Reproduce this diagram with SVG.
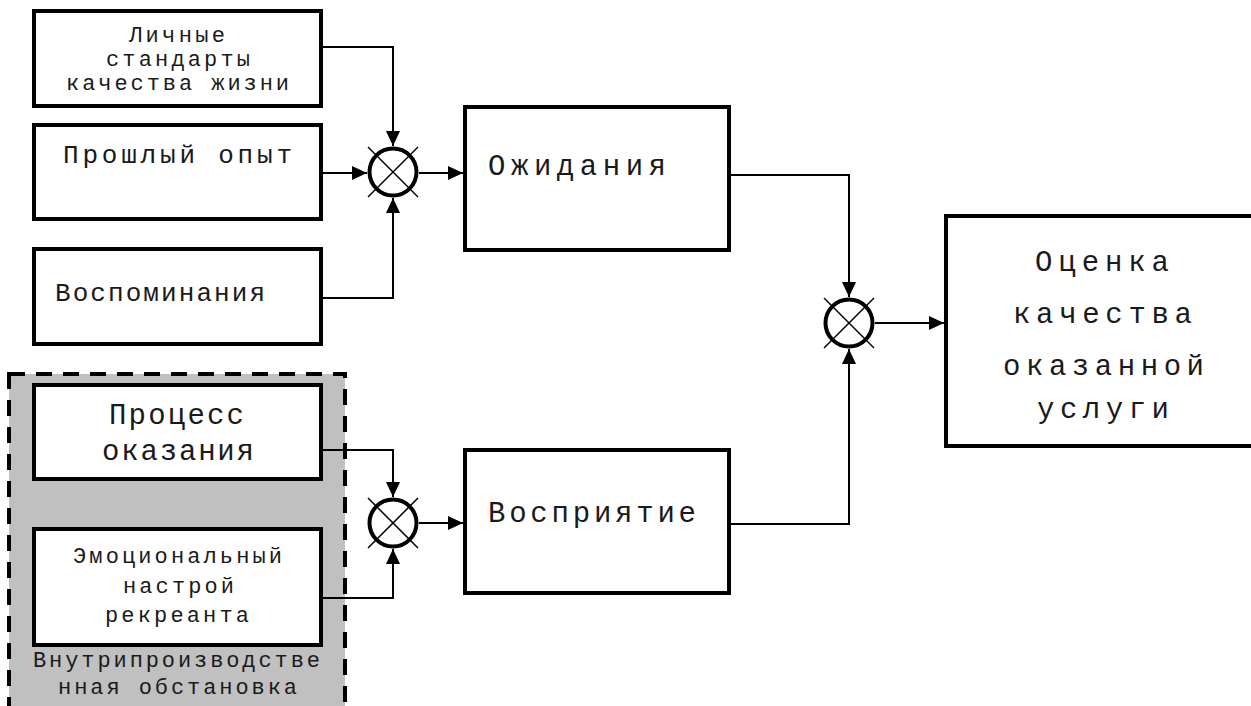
<svg xmlns="http://www.w3.org/2000/svg" width="1251" height="706" viewBox="0 0 1251 706">
<style>
.box{fill:#fff;stroke:#000;stroke-width:4}
.t{font-family:"Liberation Mono","Courier New",monospace;fill:#1a1a1a}
.s{font-size:22px}
.m{font-size:26px}
.l{font-size:29px}
.c{fill:#fff;stroke:#000;stroke-width:4}
.x{stroke:#000;stroke-width:1.5}
.con{fill:none;stroke:#000;stroke-width:2}
</style>
<defs>
<marker id="arr" markerUnits="userSpaceOnUse" markerWidth="16" markerHeight="14" refX="15" refY="7" orient="auto">
<path d="M0,0 L15,7 L0,14 z" fill="#000"/>
</marker>
</defs>
<rect x="9" y="374" width="336" height="360" fill="#c0c0c0" stroke="#000" stroke-width="4" stroke-dasharray="16 11"/>
<g id="connectors">
<path class="con" d="M323,47 H393 V146" marker-end="url(#arr)"/>
<path class="con" d="M323,173 H367" marker-end="url(#arr)"/>
<path class="con" d="M323,298 H393 V198" marker-end="url(#arr)"/>
<path class="con" d="M419,173 H463" marker-end="url(#arr)"/>
<path class="con" d="M731,175 H849 V297" marker-end="url(#arr)"/>
<path class="con" d="M731,524 H849 V349" marker-end="url(#arr)"/>
<path class="con" d="M875,323 H944" marker-end="url(#arr)"/>
<path class="con" d="M323,450 H393 V497" marker-end="url(#arr)"/>
<path class="con" d="M323,598 H393 V549" marker-end="url(#arr)"/>
<path class="con" d="M419,523 H463" marker-end="url(#arr)"/>
</g>
<g id="box-standards">
<rect class="box" x="34" y="11" width="287" height="95"/>
<text class="t s" x="129" y="42" textLength="96" lengthAdjust="spacing">Личные</text>
<text class="t s" x="106" y="66" textLength="144" lengthAdjust="spacing">стандарты</text>
<text class="t s" x="66" y="90" textLength="223" lengthAdjust="spacing">качества жизни</text>
</g>
<g id="box-experience">
<rect class="box" x="34" y="125" width="287" height="94"/>
<text class="t m" x="63" y="163" textLength="229" lengthAdjust="spacing">Прошлый опыт</text>
</g>
<g id="box-memories">
<rect class="box" x="34" y="249" width="287" height="95"/>
<text class="t m" x="55" y="301" textLength="210" lengthAdjust="spacing">Воспоминания</text>
</g>
<g id="box-process">
<rect class="box" x="34" y="385" width="287" height="94"/>
<text class="t l" x="109" y="424" textLength="135" lengthAdjust="spacing">Процесс</text>
<text class="t l" x="102" y="460" textLength="152" lengthAdjust="spacing">оказания</text>
</g>
<g id="box-mood">
<rect class="box" x="34" y="529" width="287" height="116"/>
<text class="t s" x="73" y="563" textLength="209" lengthAdjust="spacing">Эмоциональный</text>
<text class="t s" x="123" y="593" textLength="111" lengthAdjust="spacing">настрой</text>
<text class="t s" x="105" y="622" textLength="144" lengthAdjust="spacing">рекреанта</text>
</g>
<g id="env-label">
<text class="t s" x="33" y="667" textLength="287" lengthAdjust="spacing">Внутрипроизводстве</text>
<text class="t s" x="58" y="694" textLength="239" lengthAdjust="spacing">нная обстановка</text>
</g>
<g id="sum-1">
<circle class="c" cx="393" cy="172" r="23.5"/>
<line class="x" x1="368" y1="147" x2="418" y2="197"/>
<line class="x" x1="418" y1="147" x2="368" y2="197"/>
</g>
<g id="sum-2">
<circle class="c" cx="393" cy="523" r="23.5"/>
<line class="x" x1="368" y1="498" x2="418" y2="548"/>
<line class="x" x1="418" y1="498" x2="368" y2="548"/>
</g>
<g id="sum-3">
<circle class="c" cx="849" cy="323" r="23.5"/>
<line class="x" x1="824" y1="298" x2="874" y2="348"/>
<line class="x" x1="874" y1="298" x2="824" y2="348"/>
</g>
<g id="box-expectations">
<rect class="box" x="465" y="107" width="264" height="143"/>
<text class="t l" x="488" y="175" textLength="178" lengthAdjust="spacing">Ожидания</text>
</g>
<g id="box-perception">
<rect class="box" x="465" y="450" width="264" height="143"/>
<text class="t l" x="488" y="522" textLength="208" lengthAdjust="spacing">Восприятие</text>
</g>
<g id="box-assessment">
<rect class="box" x="946" y="216" width="320" height="230"/>
<text class="t l" x="1035" y="271" textLength="134" lengthAdjust="spacing">Оценка</text>
<text class="t l" x="1013" y="323" textLength="179" lengthAdjust="spacing">качества</text>
<text class="t l" x="1003" y="375" textLength="201" lengthAdjust="spacing">оказанной</text>
<text class="t l" x="1037" y="418" textLength="132" lengthAdjust="spacing">услуги</text>
</g>
</svg>
